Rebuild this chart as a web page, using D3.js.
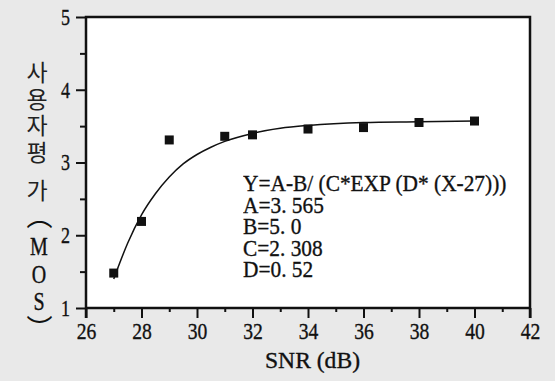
<!DOCTYPE html>
<html>
<head>
<meta charset="utf-8">
<script src="https://cdn.jsdelivr.net/npm/d3@7"></script>
<style>
  body { margin: 0; background: #e9e9e9; }
  svg { display: block; }
  .serif { font-family: "Liberation Serif", "Times New Roman", serif; stroke: #111; stroke-width: 0.35px; }
  .ko { font-family: "Noto Sans CJK KR", sans-serif; }
  .vert { writing-mode: vertical-rl; text-orientation: upright; }
  .eq {
    margin: 0;
    font-family: "Liberation Serif", "Times New Roman", serif;
    font-size: 24px;
    line-height: 21.5px;
    color: #111;
    -webkit-text-stroke: 0.35px #111;
    white-space: pre;
    transform: scaleX(0.89);
    transform-origin: 0 0;
  }
</style>
</head>
<body>
<script>
// measured points (SNR in dB, MOS)
const snr = [27, 28, 29, 31, 32, 34, 36, 38, 40];
const mos = [1.48, 2.19, 3.31, 3.36, 3.38, 3.46, 3.48, 3.55, 3.57];

// fitted curve
const fitX = [27, 27.5, 28, 28.5, 29, 29.5, 30, 30.5, 31, 32, 33, 34, 36, 38, 40];
const fitY = [1.40, 1.89, 2.28, 2.57, 2.80, 2.98, 3.11, 3.21, 3.29, 3.40, 3.47, 3.51, 3.55, 3.56, 3.57];

const xTicks = [26, 28, 30, 32, 34, 36, 38, 40, 42];
const xMinor = [27, 29, 31, 33, 35, 37, 39, 41];
const yTicks = [1, 2, 3, 4, 5];
const yMinor = [1.5, 2.5, 3.5, 4.5];

const eqLines = ["Y=A-B/ (C*EXP (D* (X-27)))", "A=3. 565", "B=5. 0", "C=2. 308", "D=0. 52"];
const yTitleKo = "사용자평";
const yTitleKoLast = "가";
const yTitleMos = "MOS";
const yTitleParens = ["︵", "︶"]; // vertical-form brackets around MOS

const W = 555, H = 381;
const plot = { left: 86, right: 530, top: 17, bottom: 308 };
const ink = "#111";

const svg = d3.select("body").append("svg")
  .attr("width", W)
  .attr("height", H);

svg.append("rect").attr("width", W).attr("height", H).attr("fill", "#e9e9e9");

const x = d3.scaleLinear().domain([26, 42]).range([plot.left, plot.right]);
const y = d3.scaleLinear().domain([1, 5]).range([plot.bottom, plot.top]);

// plot area
svg.append("rect")
  .attr("x", plot.left).attr("y", plot.top)
  .attr("width", plot.right - plot.left).attr("height", plot.bottom - plot.top)
  .attr("fill", "#fff");

// minor ticks
svg.append("g")
  .attr("transform", "translate(0," + plot.bottom + ")")
  .call(d3.axisBottom(x).tickValues(xMinor).tickSize(4).tickFormat(""))
  .call(g => g.select(".domain").remove())
  .call(g => g.selectAll("line").attr("stroke", ink).attr("stroke-width", 2));

svg.append("g")
  .attr("transform", "translate(" + plot.left + ",0)")
  .call(d3.axisLeft(y).tickValues(yMinor).tickSize(6).tickFormat(""))
  .call(g => g.select(".domain").remove())
  .call(g => g.selectAll("line").attr("stroke", ink).attr("stroke-width", 2));

// major ticks + labels
const xAxis = svg.append("g")
  .attr("transform", "translate(0," + plot.bottom + ")")
  .call(d3.axisBottom(x).tickValues(xTicks).tickSize(10).tickPadding(5).tickFormat(d3.format("d")))
  .call(g => g.select(".domain").remove())
  .attr("font-family", null).attr("font-size", null);
xAxis.selectAll("line").attr("stroke", ink).attr("stroke-width", 2);
xAxis.selectAll("text")
  .attr("class", "serif")
  .style("font-size", "23px").attr("fill", ink)
  .attr("textLength", d => String(d).length * 9.8)
  .attr("lengthAdjust", "spacingAndGlyphs");

const yAxis = svg.append("g")
  .attr("transform", "translate(" + plot.left + ",0)")
  .call(d3.axisLeft(y).tickValues(yTicks).tickSize(10).tickPadding(6).tickFormat(d3.format("d")))
  .call(g => g.select(".domain").remove())
  .attr("font-family", null).attr("font-size", null);
yAxis.selectAll("line").attr("stroke", ink).attr("stroke-width", 2);
yAxis.selectAll("text")
  .attr("class", "serif")
  .style("font-size", "23px").attr("fill", ink)
  .attr("textLength", 9).attr("lengthAdjust", "spacingAndGlyphs");

// frame
svg.append("path")
  .attr("d", "M" + plot.left + "," + (plot.bottom + 10) + "V" + plot.top + "H" + plot.right + "V" + (plot.bottom + 10))
  .attr("fill", "none").attr("stroke", ink).attr("stroke-width", 2.5);
svg.append("line")
  .attr("x1", plot.left).attr("x2", plot.right)
  .attr("y1", plot.bottom).attr("y2", plot.bottom)
  .attr("stroke", ink).attr("stroke-width", 2.5);

// fitted curve
const fit = fitX.map((v, i) => [v, fitY[i]]);
svg.append("path")
  .datum(fit)
  .attr("fill", "none").attr("stroke", ink).attr("stroke-width", 1.5)
  .attr("d", d3.line().x(d => x(d[0])).y(d => y(d[1])).curve(d3.curveMonotoneX));

// points
const pts = snr.map((v, i) => [v, mos[i]]);
const s = 9;
svg.append("g").selectAll("rect")
  .data(pts).join("rect")
  .attr("x", d => x(d[0]) - s / 2).attr("y", d => y(d[1]) - s / 2)
  .attr("width", s).attr("height", s)
  .attr("fill", ink);

// equation block, tight leading like the original
svg.append("foreignObject")
  .attr("x", 243).attr("y", 173)
  .attr("width", 300).attr("height", 115)
  .append("xhtml:pre")
  .attr("class", "eq")
  .text(eqLines.join("\n"));

// x title
svg.append("text")
  .attr("class", "serif")
  .style("font-size", "23px").attr("fill", ink)
  .attr("x", 265).attr("y", 368)
  .attr("textLength", 95).attr("lengthAdjust", "spacingAndGlyphs")
  .text("SNR (dB)");

// y title, written top to bottom
svg.append("text")
  .attr("class", "ko vert")
  .style("font-size", "23px").style("letter-spacing", "3.5px")
  .attr("fill", "#222")
  .attr("x", 37).attr("y", 61)
  .text(yTitleKo);
svg.append("text")
  .attr("class", "ko vert")
  .style("font-size", "23px")
  .attr("fill", "#222")
  .attr("x", 37).attr("y", 179)
  .text(yTitleKoLast);

svg.append("text")
  .attr("class", "serif vert")
  .style("font-size", "25px").style("letter-spacing", "0px")
  .attr("fill", ink)
  .attr("transform", "translate(39,0) scale(0.8,1)")
  .attr("x", 0).attr("y", 233)
  .text(yTitleMos);

// brackets: size and place them by their ink box
const ctx = document.createElement("canvas").getContext("2d");
ctx.font = "100px 'Noto Sans CJK KR'";
const parenPos = [[39.5, 225], [39.5, 320]];
yTitleParens.forEach((ch, i) => {
  const m = ctx.measureText(ch);
  const L = m.actualBoundingBoxLeft, R = m.actualBoundingBoxRight;
  const A = m.actualBoundingBoxAscent, D = m.actualBoundingBoxDescent;
  const k = 25 / Math.max(1, L + R);
  const [cx, cy] = parenPos[i];
  svg.append("text")
    .attr("class", "ko")
    .style("font-size", (100 * k) + "px")
    .attr("fill", ink)
    .attr("x", cx - (R - L) / 2 * k)
    .attr("y", cy - (D - A) / 2 * k)
    .text(ch);
});
</script>
</body>
</html>
